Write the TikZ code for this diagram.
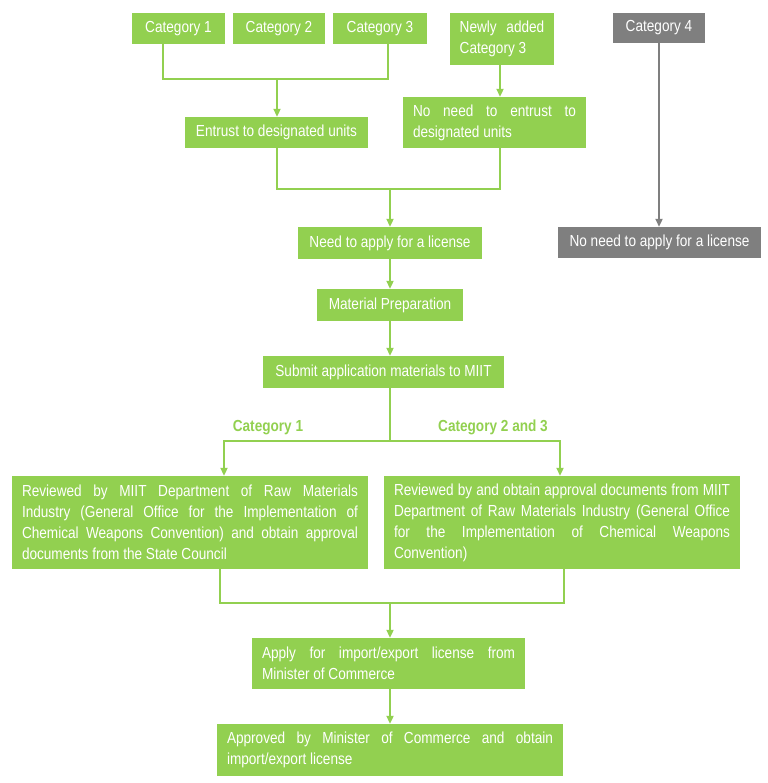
\documentclass[tikz,border=0pt]{standalone}
\usepackage{fontspec}
\setmainfont{Liberation Sans}[FakeStretch=0.85]
\usetikzlibrary{arrows.meta}
\definecolor{leaf}{HTML}{92D050}
\definecolor{slate}{HTML}{7F7F7F}

\begin{document}
\begin{tikzpicture}[x=1pt,y=-1pt,
  every node/.style={font=\fontsize{16}{21}\selectfont},
  box/.style={fill=leaf,text=white,inner sep=0pt,minimum height=31pt},
  graybox/.style={box,fill=slate},
  parbox/.style={box,align=justify,inner xsep=10pt,text width=#1},
  caption/.style={text=leaf,font=\fontsize{16}{18}\selectfont\bfseries},
  link/.style={draw=leaf,line width=2pt},
  arr/.style={link,-{Triangle[length=8pt,width=7pt]}}]
\useasboundingbox (0,0) rectangle (767,783);
\node[box,minimum width=93pt] (cat1) at (178.5,28.5) {Category 1};
\node[box,minimum width=92pt] (cat2) at (279,28.5) {Category 2};
\node[box,minimum width=94pt] (cat3) at (380,28.5) {Category 3};
\node[box,minimum width=104pt,minimum height=52pt,align=left] (newcat3) at (502,39) {Newly\hspace{6pt} added\\Category 3};
\node[graybox,minimum width=92pt,minimum height=30pt] (cat4) at (659,28) {Category 4};
\node[box,minimum width=183pt] (entrust) at (276.5,132.5) {Entrust to designated units};
\node[parbox=163pt,minimum height=51pt] (noentrust) at (494.5,122.5) {No need to entrust to\linebreak designated units};
\node[box,minimum width=184pt,minimum height=32pt] (need) at (390,243) {Need to apply for a license};
\node[graybox,minimum width=203pt] (nolic) at (659.5,242.5) {No need to apply for a license};
\node[box,minimum width=146pt,minimum height=32pt] (prep) at (390,305) {Material Preparation};
\node[box,minimum width=241pt,minimum height=32pt] (submit) at (383.5,372) {Submit application materials to MIIT};
\node[parbox=336pt,minimum height=93pt] (rev1) at (190,522.5) {Reviewed by MIIT Department of Raw Materials\linebreak Industry (General Office for the Implementation of\linebreak Chemical Weapons Convention) and obtain approval\linebreak documents from the State Council};
\node[parbox=336pt,minimum height=93pt] (rev2) at (562,522.5) {Reviewed by and obtain approval documents from MIIT\linebreak Department of Raw Materials Industry (General Office\linebreak for the Implementation of Chemical Weapons\linebreak Convention)};
\node[parbox=253pt,minimum height=51pt] (apply) at (388.5,663.5) {Apply for import/export license from\linebreak Minister of Commerce};
\node[parbox=326pt,minimum height=52pt] (approved) at (390,750) {Approved by Minister of Commerce and obtain\linebreak import/export license};
\node[caption] (lab1) at (268,428) {Category 1};
\node[caption] (lab23) at (493,427) {Category 2 and 3};
% joints of the lines
\coordinate (top) at (277,79);
\coordinate (merge) at (390,189);
\coordinate (split) at (390,441);
\coordinate (join) at (390,603);
\draw[link] ([xshift=-15.5pt]cat1.south) |- (top) -| ([xshift=8pt]cat3.south);
\draw[arr] (top) -- (top |- entrust.north);
\draw[arr] ([xshift=-2pt]newcat3.south) -- ([xshift=-2pt]newcat3.south |- noentrust.north);
\draw[link] (entrust.south) |- (merge) -| ([xshift=5.5pt]noentrust.south);
\draw[arr] (merge) -- (need);
\draw[arr] (need) -- (prep);
\draw[arr] (prep.south) -- (prep.south |- submit.north);
\draw[link] (submit.south -| split) -- (split);
\draw[arr] (split) -| ([xshift=34pt]rev1.north);
\draw[arr] (split) -| ([xshift=-2pt]rev2.north);
\draw[link] ([xshift=30pt]rev1.south) |- (join) -| ([xshift=2pt]rev2.south);
\draw[arr] (join) -- (join |- apply.north);
\draw[arr] (apply.south -| join) -- (approved);
\draw[arr,draw=slate] (cat4) -- (cat4 |- nolic.north);
\end{tikzpicture}
\end{document}
